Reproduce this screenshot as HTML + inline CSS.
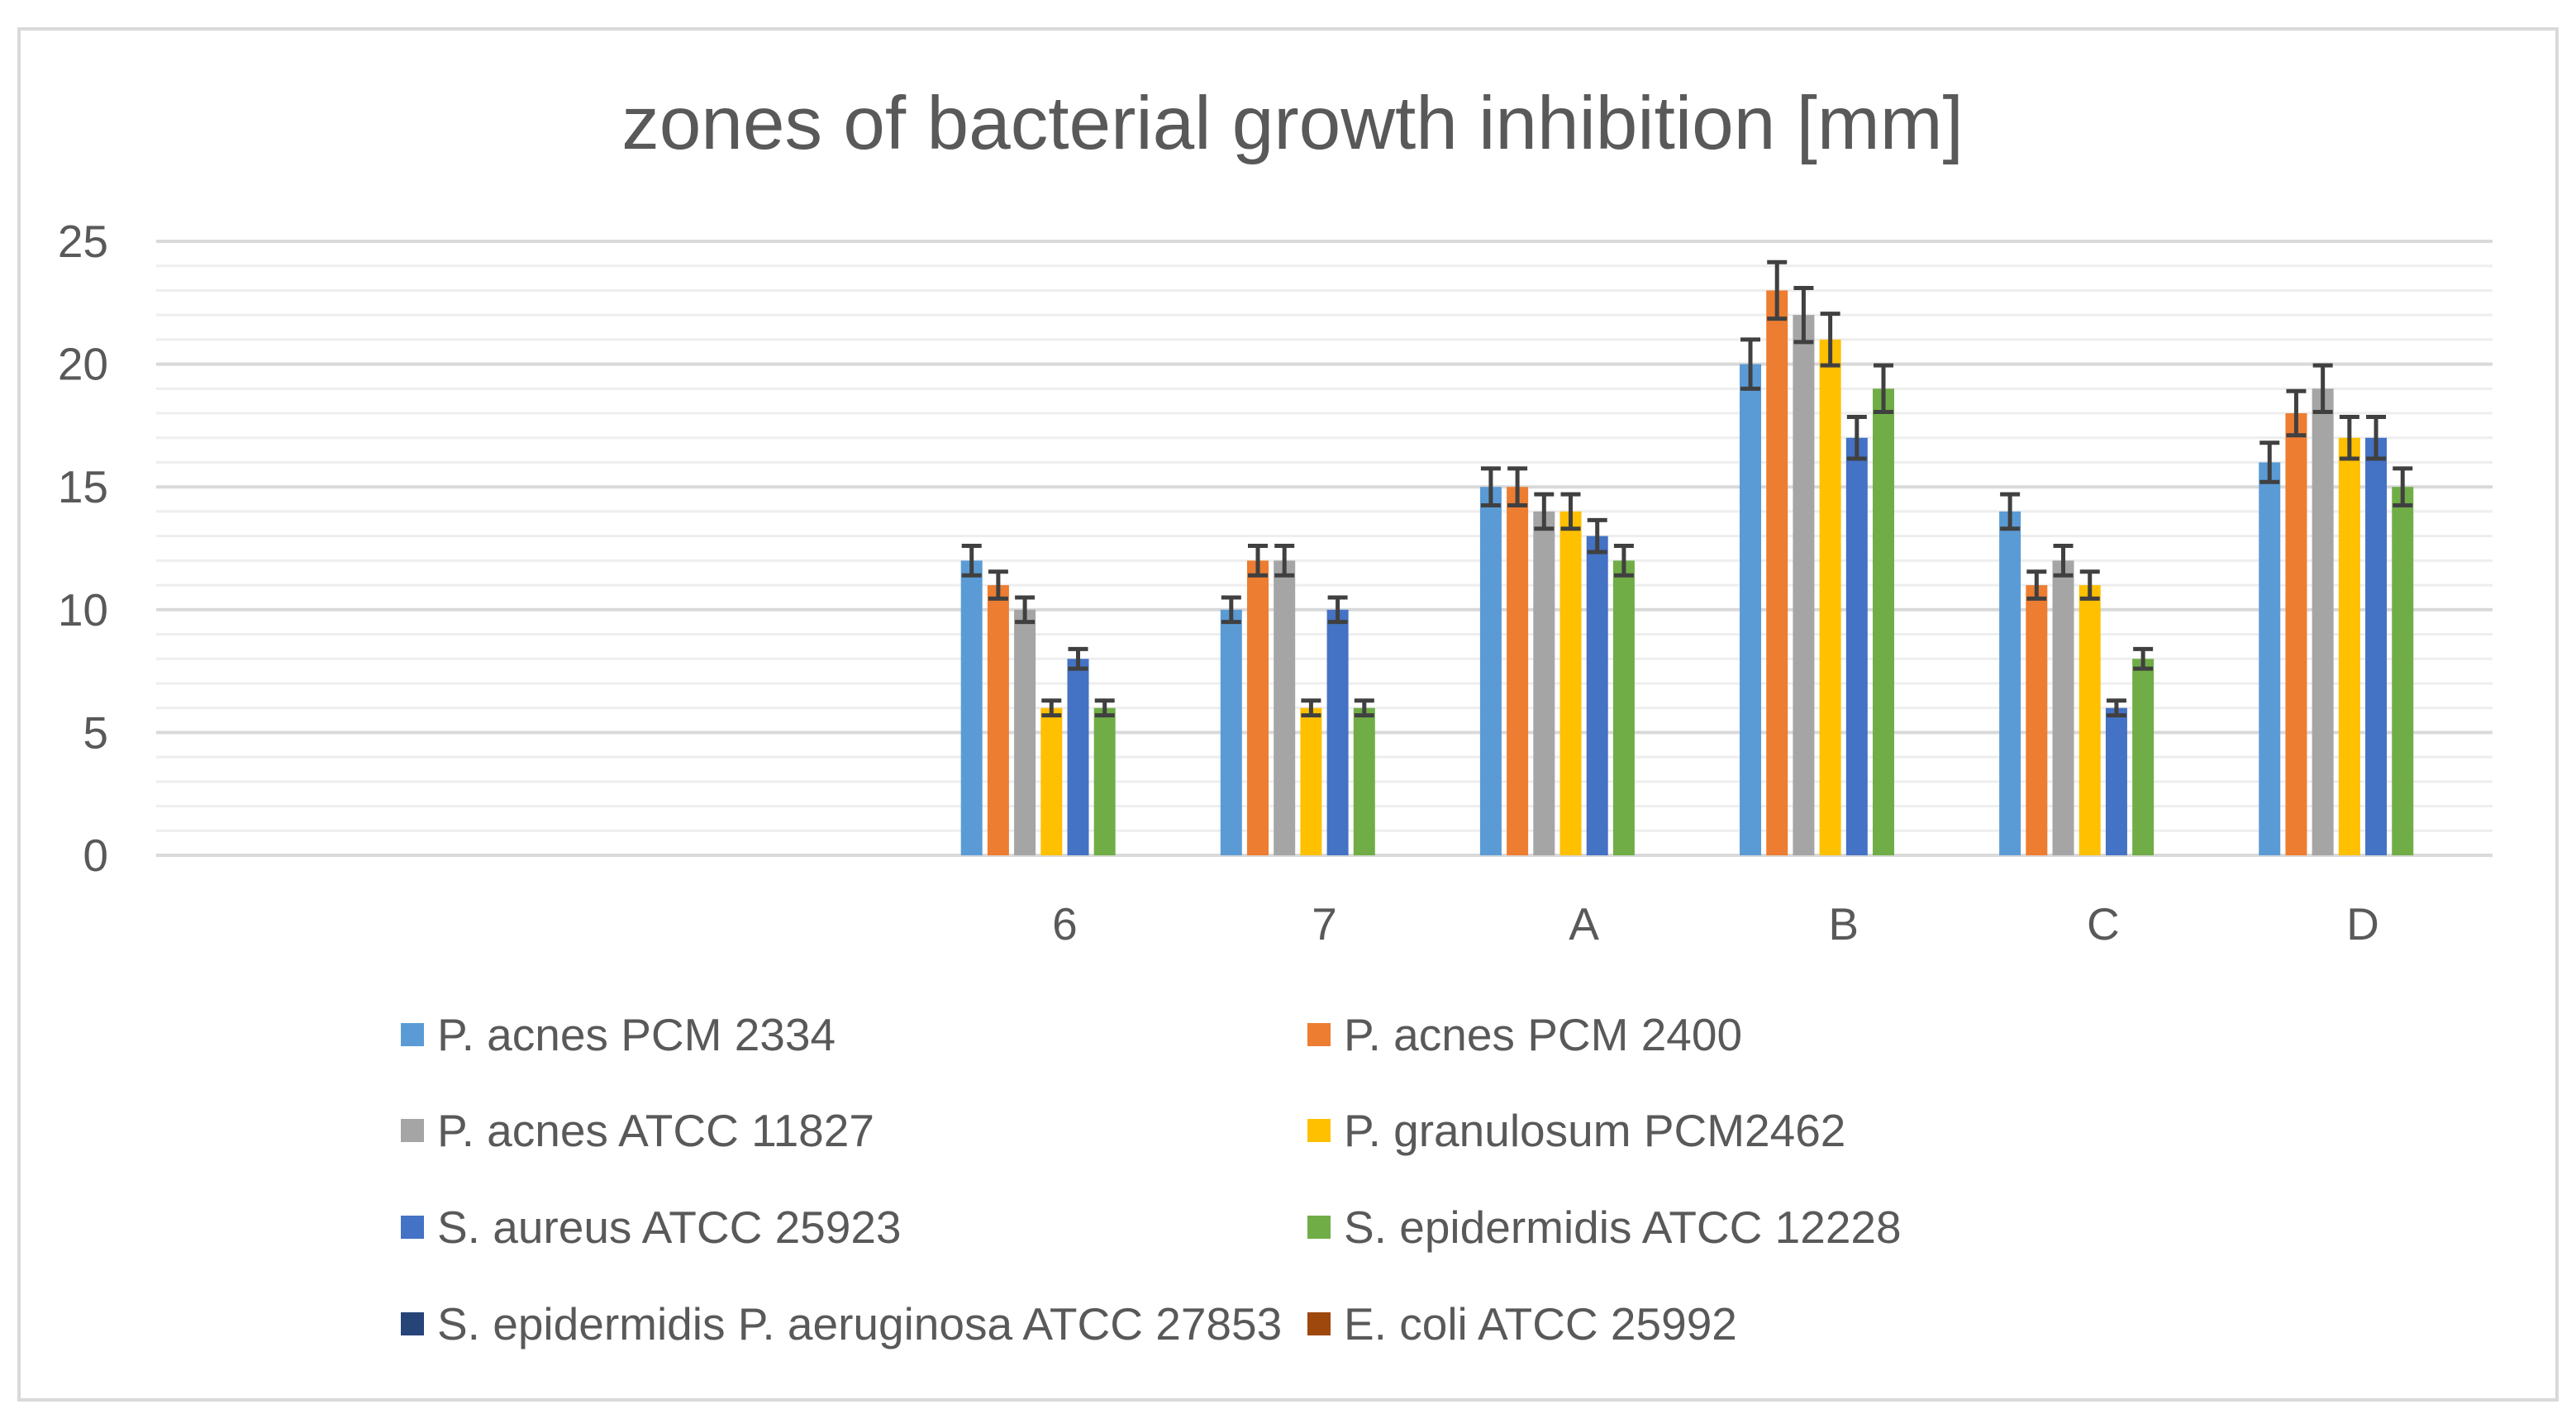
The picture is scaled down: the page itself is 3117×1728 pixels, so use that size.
<!DOCTYPE html>
<html><head><meta charset="utf-8"><style>
html,body{margin:0;padding:0;background:#fff;}
svg{display:block;font-family:"Liberation Sans",sans-serif;}
</style></head><body>
<svg id="chart" width="3117" height="1728" viewBox="0 0 3117 1728" xmlns="http://www.w3.org/2000/svg">
<rect x="0" y="0" width="3117" height="1728" fill="#fff"/>
<rect x="23" y="35" width="3071" height="1659" fill="none" stroke="#d9d9d9" stroke-width="4"/>
<text x="1564" y="180" text-anchor="middle" font-size="91" fill="#595959">zones of bacterial growth inhibition [mm]</text>
<g id="grid"></g><g id="bars"></g><g id="errs"></g><g id="yticks"></g><g id="xticks"></g><g id="legend"></g>
</svg>
<script>
const categories = ["", "", "", "6", "7", "A", "B", "C", "D"];
const seriesNames = ["P. acnes PCM 2334","P. acnes PCM 2400","P. acnes ATCC 11827","P. granulosum PCM2462","S. aureus ATCC 25923","S. epidermidis ATCC 12228","S. epidermidis P. aeruginosa ATCC 27853","E. coli ATCC 25992"];
const seriesColors = ["#5b9bd5","#ed7d31","#a5a5a5","#ffc000","#4472c4","#70ad47","#264478","#9e480e"];
const s1 = [null,null,null,12,10,15,20,14,16];
const s2 = [null,null,null,11,12,15,23,11,18];
const s3 = [null,null,null,10,12,14,22,12,19];
const s4 = [null,null,null,6,6,14,21,11,17];
const s5 = [null,null,null,8,10,13,17,6,17];
const s6 = [null,null,null,6,6,12,19,8,15];
const s7 = [null,null,null,null,null,null,null,null,null];
const s8 = [null,null,null,null,null,null,null,null,null];
const e1 = [0,0,0,0.6,0.5,0.75,1.0,0.7,0.8];
const e2 = [0,0,0,0.55,0.6,0.75,1.15,0.55,0.9];
const e3 = [0,0,0,0.5,0.6,0.7,1.1,0.6,0.95];
const e4 = [0,0,0,0.3,0.3,0.7,1.05,0.55,0.85];
const e5 = [0,0,0,0.4,0.5,0.65,0.85,0.3,0.85];
const e6 = [0,0,0,0.3,0.3,0.6,0.95,0.4,0.75];
const yTicks = [0,5,10,15,20,25];
const series = [s1,s2,s3,s4,s5,s6,s7,s8];
const errors = [e1,e2,e3,e4,e5,e6,null,null];
const NS="http://www.w3.org/2000/svg";
const L=189,R=3016,Y0=1035,Y25=292;
const y=v=>Y0-(v/25)*(Y0-Y25);
const cw=(R-L)/categories.length;
const slot=32.2, bw=26;
const x=(ci,si)=>L+cw*(ci+0.5)-slot*series.length/2+slot*si+(slot-bw)/2;
function mk(t,a,p){const e=document.createElementNS(NS,t);for(const k in a)e.setAttribute(k,a[k]);p.appendChild(e);return e;}
const grid=document.getElementById('grid');
for(let v=0;v<=25;v++){
 const ln=mk('line',{x1:L,x2:R,y1:y(v),y2:y(v),stroke:v%5===0?'#d9d9d9':'#eeeeee','stroke-width':v%5===0?4:3},grid);
 
 
}
const yt=document.getElementById('yticks');
yTicks.forEach(v=>{const t=mk('text',{x:131,y:y(v)+19,'text-anchor':'end','font-size':55,fill:'#595959'},yt);t.textContent=v;
 
 });
const xt=document.getElementById('xticks');
categories.forEach((c,i)=>{if(!c)return;const t=mk('text',{x:L+cw*(i+0.5),y:1137,'text-anchor':'middle','font-size':55,fill:'#595959'},xt);t.textContent=c;
 
 });
const bars=document.getElementById('bars'),errs=document.getElementById('errs');
series.forEach((s,si)=>{s.forEach((v,ci)=>{if(v==null)return;
 const b=mk('rect',{x:x(ci,si),y:y(v),width:bw,height:Y0-y(v),fill:seriesColors[si]},bars);
 
 
 const er=errors[si]?errors[si][ci]:0; if(!er)return;
 const cx=x(ci,si)+bw/2;
 const g=mk('g',{stroke:'#404040','stroke-width':5},errs);
 
 
 mk('line',{x1:cx,x2:cx,y1:y(v+er),y2:y(v-er)},g);
 mk('line',{x1:cx-12,x2:cx+12,y1:y(v+er),y2:y(v+er)},g);
 mk('line',{x1:cx-12,x2:cx+12,y1:y(v-er),y2:y(v-er)},g);
});});
const lg=document.getElementById('legend');
const rowsY=[1252,1368,1485,1602], colX=[485,1582];
seriesNames.forEach((n,i)=>{const cx=colX[i%2],cy=rowsY[Math.floor(i/2)];
 const g=mk('g',{},lg);
 
 
 mk('rect',{x:cx,y:cy-14,width:28,height:28,fill:seriesColors[i]},g);
 const t=mk('text',{x:cx+44,y:cy+19,'font-size':55,fill:'#595959'},g);t.textContent=n;});
</script>
</body></html>
